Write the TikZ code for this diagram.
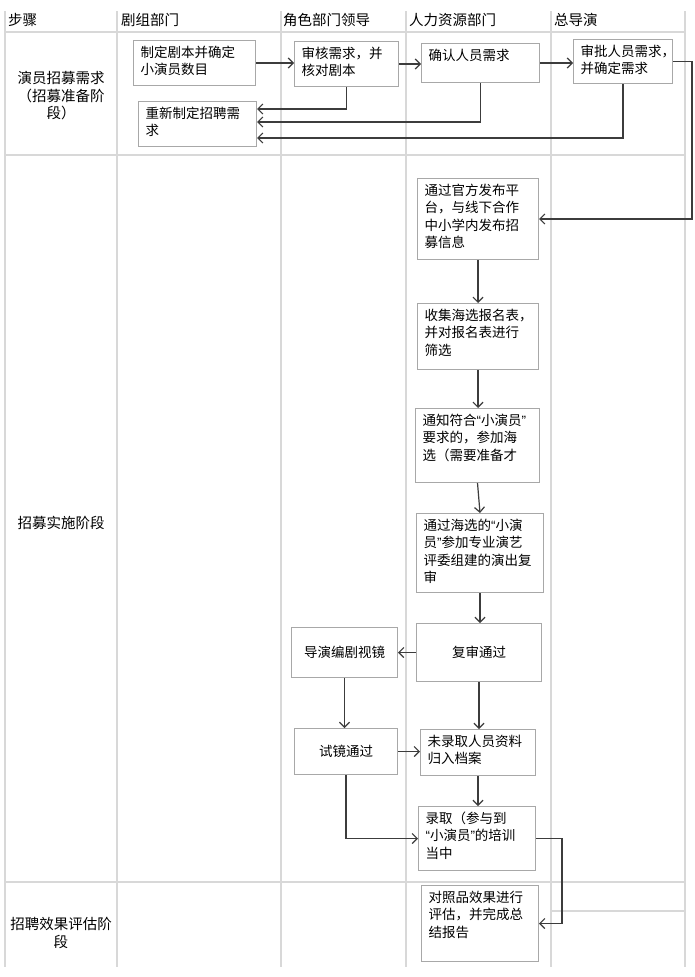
\documentclass[tikz,border=0pt]{standalone}
\usepackage{fontspec}
\newfontfamily\cjk{Noto Sans CJK SC}
\newfontfamily\quo{Liberation Sans}
\usepackage{tikz}
\usetikzlibrary{positioning,arrows.meta}

\definecolor{laneGray}{HTML}{D8D8D8}
\definecolor{boxGray}{HTML}{A8A8A8}
\definecolor{flowGray}{HTML}{3C3C3C}

% narrow quote marks as in the chart
\newcommand{\qOpen}{{\quo “}}
\newcommand{\qClose}{{\quo ”}}

\tikzset{
	lane/.style={draw=laneGray, line width=1.3pt},
	stepbox/.style={draw=boxGray, line width=1pt, fill=white, anchor=north west, align=left,
		font=\cjk\fontsize{13.5}{17.3}\selectfont, inner xsep=7pt, inner ysep=4pt, text height=13pt},
	passbox/.style={draw=boxGray, line width=1pt, fill=white, anchor=north west, align=center,
		font=\cjk\fontsize{13.5}{17.3}\selectfont, inner sep=0pt},
	heading/.style={anchor=west, font=\cjk\fontsize{14.5}{17.5}\selectfont, inner sep=0pt},
	stage/.style={align=center, font=\cjk\fontsize{14.5}{17.5}\selectfont, inner sep=0pt},
	flow/.style={draw=flowGray, line width=1.2pt, -{Straight Barb[length=5pt,width=10pt]}}
}

\begin{document}
\begin{tikzpicture}[x=1pt,y=-1pt]
			\fill[white] (0,0) rectangle (694,977);
			\useasboundingbox (0,0) rectangle (694,977);
			% swimlane grid
			\foreach \x in {5,117,281,406,551,685}
				\draw[lane] (\x,11) -- (\x,967);
			\foreach \y in {32,155,882}
				\draw[lane] (5,\y) -- (685,\y);
			\draw[lane] (551,911) -- (685,911);
			% headings
			\node[heading] (headStep) at (8,20) {步骤};
			\node[heading] (headCrew) at (121,20) {剧组部门};
			\node[heading] (headRole) at (283,20) {角色部门领导};
			\node[heading] (headHR) at (409,20) {人力资源部门};
			\node[heading] (headDirector) at (554,20) {总导演};
			\node[stage] (stagePrep) at (61,96) {演员招募需求\\（招募准备阶\\段）};
			\node[stage] (stageRun) at (61,523) {招募实施阶段};
			\node[stage] (stageEval) at (61,933) {招聘效果评估阶\\段};
			% preparation
			\node[stepbox, text width=108pt, text depth=24pt] (nodeScript) at (133,40) {制定剧本并确定\\小演员数目};
			\node[stepbox, text width=90pt, text depth=24pt] (nodeCheck) at (294,41) {审核需求，并\\核对剧本};
			\node[stepbox, text width=104pt, text depth=18pt] (nodeConfirm) at (421,43) {确认人员需求};
			\node[stepbox, text width=85pt, text depth=23pt] (nodeApprove) at (573,39) {审批人员需求，\\并确定需求};
			\node[stepbox, text width=104pt, text depth=24pt] (nodeRedo) at (138,101) {重新制定招聘需\\求};
			% recruitment
			\node[stepbox, text width=107pt, text depth=60pt] (nodeIssue) at (417,178) {通过官方发布平\\台，与线下合作\\中小学内发布招\\募信息};
			\node[stepbox, text width=107pt, text depth=45pt] (nodeCollect) at (417,303) {收集海选报名表，\\并对报名表进行\\筛选};
			\node[stepbox, text width=110pt, text depth=53pt] (nodeNotify) at (415,408) {通知符合\qOpen 小演员\qClose\\要求的，参加海\\选（需要准备才};
			\node[stepbox, text width=113pt, text depth=58pt] (nodeRetest) at (416,513) {通过海选的\qOpen 小演\\员\qClose 参加专业演艺\\评委组建的演出复\\审};
			\node[passbox, minimum width=125pt, minimum height=58pt] (nodeRetestPass) at (416,623) {复审通过};
			\node[passbox, minimum width=106pt, minimum height=50pt] (nodeScreen) at (291,627) {导演编剧视镜};
			\node[passbox, minimum width=103pt, minimum height=46pt] (nodePass) at (294,728) {试镜通过};
			\node[stepbox, text width=101pt, text depth=25pt] (nodeArchive) at (420,729) {未录取人员资料\\归入档案};
			\node[stepbox, text width=103pt, text depth=43pt] (nodeHire) at (418,806) {录取（参与到\\\qOpen 小演员\qClose 的培训\\当中};
			% evaluation
			\node[stepbox, text width=103pt, text depth=55pt] (nodeReport) at (421,885) {对照品效果进行\\评估，并完成总\\结报告};
			\coordinate (railTop) at (692,0);
			\coordinate (railLow) at (562,0);
			% connectors
			\draw[flow] (nodeScript.east) -- (nodeScript.east -| nodeCheck.west);
			\draw[flow] (nodeCheck.east) -- (nodeCheck.east -| nodeConfirm.west);
			\draw[flow] (nodeConfirm.east) -- (nodeConfirm.east -| nodeApprove.west);
			\draw[flow] (nodeCheck.south) |- ([yshift=-8pt]nodeRedo.north east);
			\draw[flow] (nodeConfirm.south) |- ([yshift=-21pt]nodeRedo.north east);
			\draw[flow] (nodeApprove.south) |- ([yshift=-37pt]nodeRedo.north east);
			\draw[flow] (nodeApprove.east) -- (nodeApprove.east -| railTop) |- (nodeIssue.east);
			\draw[flow] (nodeIssue.south) -- (nodeIssue.south |- nodeCollect.north);
			\draw[flow] (nodeCollect.south) -- (nodeCollect.south |- nodeNotify.north);
			\draw[flow] (nodeNotify.south) -- (nodeRetest.north);
			\draw[flow] (nodeRetest.south) -- (nodeRetest.south |- nodeRetestPass.north);
			\draw[flow] (nodeRetestPass.west) -- (nodeRetestPass.west -| nodeScreen.east);
			\draw[flow] (nodeScreen.south) -- (nodeScreen.south |- nodePass.north);
			\draw[flow] (nodeRetestPass.south) -- (nodeRetestPass.south |- nodeArchive.north);
			\draw[flow] (nodePass.east) -- (nodePass.east -| nodeArchive.west);
			\draw[flow] (nodeArchive.south) -- (nodeArchive.south |- nodeHire.north);
			\draw[flow] (nodePass.south) |- (nodeHire.west);
			\draw[flow] (nodeHire.east) -- (nodeHire.east -| railLow) |- (nodeReport.east);
		\end{tikzpicture}
\end{document}
